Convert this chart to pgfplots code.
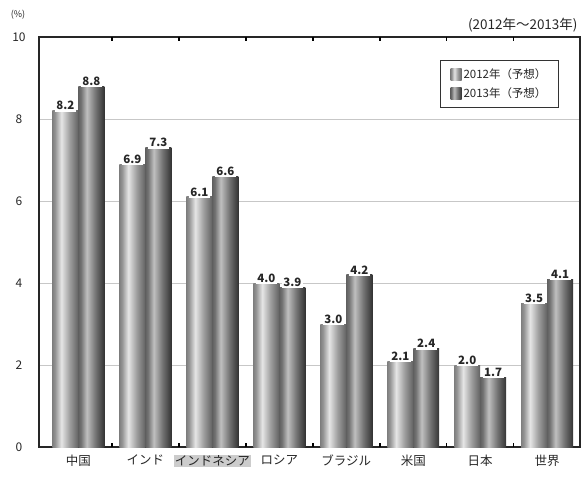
\documentclass[border=0pt]{standalone}
\usepackage{pgfplots}
\pgfplotsset{compat=1.18}
\usepackage{fontspec}
\setmainfont{Noto Sans CJK JP}
\pgfdeclarehorizontalshading{barA}{100bp}{color(0bp)=(black!50); color(25bp)=(black!50); color(30bp)=(black!42); color(42bp)=(black!10); color(58bp)=(black!38); color(75bp)=(black!62); color(100bp)=(black!62)}
\pgfdeclarehorizontalshading{barB}{100bp}{color(0bp)=(black!62); color(25bp)=(black!62); color(30bp)=(black!55); color(41bp)=(black!25); color(58bp)=(black!55); color(75bp)=(black!80); color(100bp)=(black!80)}
\begin{document}
\begin{tikzpicture}
\begin{axis}[
  scale only axis, width=542pt, height=411pt,
  xmin=-0.59, xmax=7.49, ymin=0, ymax=10,
  xtick={0,1,2,3,4,5,6,7},
  xticklabels={中国,インド,{\setlength{\fboxsep}{1pt}\colorbox{black!20}{インドネシア}},ロシア,ブラジル,米国,日本,世界},
  ytick={0,2,4,6,8,10},
  ymajorgrids, grid style={black!22, line width=0.8pt},
  axis line style={line width=1.5pt, black!85},
  tick style={draw=none},
  extra x ticks={0.5,1.5,2.5,3.5,4.5,5.5,6.5},
  extra x tick labels={},
  extra x tick style={tick style={draw=black, line width=1.5pt}, major tick length=4pt, tick align=inside},
  /pgf/number format/assume math mode=true,
  tick label style={font=\fontsize{12}{12}\selectfont, text=black!85},
  yticklabel style={anchor=center, xshift=-20pt},
  xticklabel style={yshift=-4pt, font=\fontsize{12.5}{12.5}\selectfont},
  legend style={at={(0.961,0.944)}, anchor=north east, draw=black!80, line width=1pt,
    font=\fontsize{11.5}{13}\selectfont, inner xsep=10pt, inner ysep=6pt, row sep=4pt, text=black!85},
  legend cell align=left,
  lbl/.style={nodes near coords={\pgfmathprintnumber[fixed,fixed zerofill,precision=1,assume math mode=true]{\pgfplotspointmeta}},
    every node near coord/.append style={fill=white, inner sep=1.5pt, font=\bfseries\fontsize{11.5}{11.5}\selectfont, text=black!85, anchor=south, yshift=-1pt, xshift=#1}},
  shadebar/.style 2 args={forget plot, scatter, only marks, mark=*, mark size=0pt, draw=none, fill=none,
    visualization depends on={y \as \yv},
    scatter/@pre marker code/.code={\shade[shading=#1] (#2,0pt) rectangle ({#2+26pt},{-\yv*41.1pt});},
    scatter/@post marker code/.code={}},
]
% shaded bars
\addplot[shadebar={barA}{-26pt}] coordinates {
  (0,8.2) (1,6.9) (2,6.1) (3,4.0) (4,3.0) (5,2.1) (6,2.0) (7,3.5)};
\addplot[shadebar={barB}{0pt}] coordinates {
  (0,8.8) (1,7.3) (2,6.6) (3,3.9) (4,4.2) (5,2.4) (6,1.7) (7,4.1)};
% value labels and legend entries
\addplot[only marks, mark=none, draw=none, lbl=-13pt,
  legend image code/.code={\shade[shading=barA] (0pt,-6pt) rectangle (11pt,6pt);}] coordinates {
  (0,8.2) (1,6.9) (2,6.1) (3,4.0) (4,3.0) (5,2.1) (6,2.0) (7,3.5)};
\addplot[only marks, mark=none, draw=none, lbl=13pt,
  legend image code/.code={\shade[shading=barB] (0pt,-6pt) rectangle (11pt,6pt);}] coordinates {
  (0,8.8) (1,7.3) (2,6.6) (3,3.9) (4,4.2) (5,2.4) (6,1.7) (7,4.1)};
\legend{2012年（予想）,2013年（予想）}
\coordinate (SW) at (rel axis cs:0,0);
\coordinate (NE) at (rel axis cs:1,1);
\coordinate (NW) at (rel axis cs:0,1);
\end{axis}
\node[font=\fontsize{9}{9}\selectfont, text=black!85] at ([shift={(-21pt,22pt)}]NW) {(\%)};
\node[font=\fontsize{13.5}{13.5}\selectfont, anchor=east, text=black!85] at ([shift={(1pt,12pt)}]NE) {(2012年～2013年)};
\pgfresetboundingbox
\path[use as bounding box] ([shift={(-39pt,-29pt)}]SW) rectangle ([shift={(1pt,37pt)}]NE);
\end{tikzpicture}
\end{document}
